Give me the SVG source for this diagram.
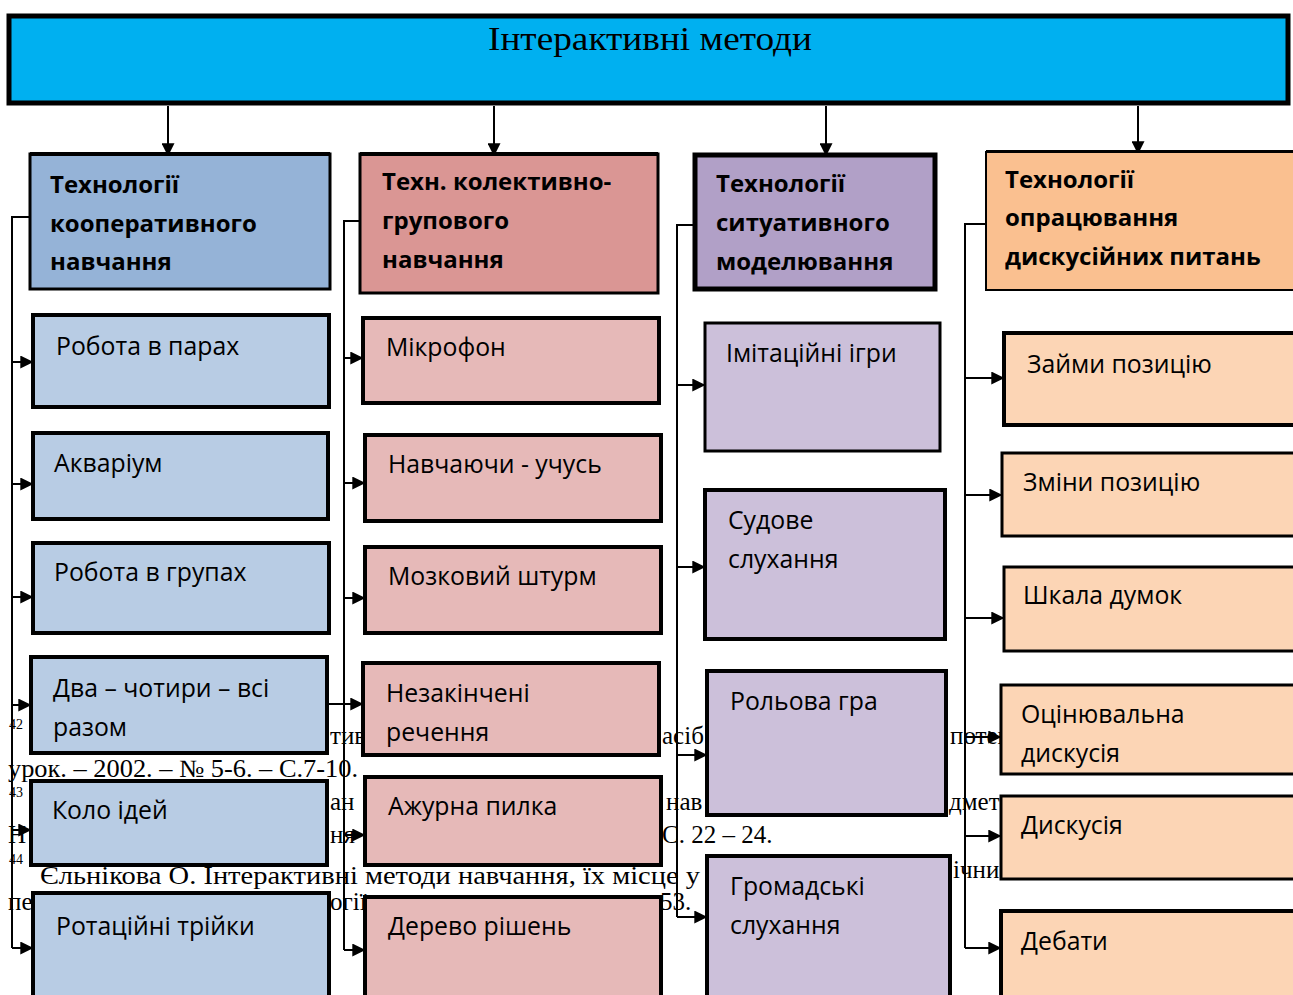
<svg xmlns="http://www.w3.org/2000/svg" width="1293" height="995" viewBox="0 0 1293 995">
<defs>
<marker id="ah" viewBox="0 0 10 10" refX="9" refY="5" markerWidth="13" markerHeight="13" markerUnits="userSpaceOnUse" orient="auto">
<path d="M0,0 L10,5 L0,10 z" fill="#000"/>
</marker>
<style>
.fn{font-family:"Liberation Serif",serif;font-size:25px;fill:#000}
.sup{font-family:"Liberation Serif",serif;font-size:14px;fill:#000}
.h{font-family:"Open Sans","Noto Sans",sans-serif;font-weight:bold;font-size:24px;fill:#000}
.t{font-family:"Open Sans","Noto Sans",sans-serif;font-size:24.8px;fill:#000}
.b{stroke:#000;stroke-width:4}
.bt{stroke:#000;stroke-width:3}
.c1h{fill:#95B3D7}.c1{fill:#B8CCE4}
.c2h{fill:#DA9694}.c2{fill:#E6B9B8}
.c3h{fill:#B1A0C7}.c3{fill:#CCC0DA}
.c4h{fill:#FAC090}.c4{fill:#FCD5B5}
.ln{fill:none;stroke:#000;stroke-width:2}
</style>
</defs>
<rect width="1293" height="995" fill="#fff"/>
<g id="footnotes">
<text class="sup" x="9" y="729">42</text>
<text class="fn" x="330" y="744">тив</text>
<text class="fn" x="662" y="744">асіб</text>
<text class="fn" x="950" y="744">потен</text>
<text class="fn" x="8" y="777" textLength="350" lengthAdjust="spacingAndGlyphs">урок. – 2002. – № 5-6. – С.7-10.</text>
<text class="sup" x="9" y="797">43</text>
<text class="fn" x="330" y="810">ан</text>
<text class="fn" x="666" y="810">нав</text>
<text class="fn" x="949" y="810">дмет</text>
<text class="fn" x="8" y="843">Н</text>
<text class="fn" x="330" y="843">ня</text>
<text class="fn" x="662" y="843">С. 22 – 24.</text>
<text class="sup" x="9" y="864">44</text>
<text class="fn" x="40" y="884" textLength="660" lengthAdjust="spacingAndGlyphs">Єльнікова О. Інтерактивні методи навчання, їх місце у</text>
<text class="fn" x="953" y="878">ічни</text>
<text class="fn" x="8" y="910">пе</text>
<text class="fn" x="330" y="910">огії</text>
<text class="fn" x="660" y="910">53.</text>
</g>
<g id="connectors">
<line class="ln" x1="168" y1="106" x2="168" y2="155" marker-end="url(#ah)"/>
<line class="ln" x1="494" y1="106" x2="494" y2="155" marker-end="url(#ah)"/>
<line class="ln" x1="826" y1="106" x2="826" y2="155" marker-end="url(#ah)"/>
<line class="ln" x1="1138" y1="106" x2="1138" y2="153" marker-end="url(#ah)"/>
<polyline class="ln" points="30,217 12,217 12,948"/>
<line class="ln" x1="12" y1="362" x2="32" y2="362" marker-end="url(#ah)"/>
<line class="ln" x1="12" y1="484" x2="32" y2="484" marker-end="url(#ah)"/>
<line class="ln" x1="12" y1="597" x2="32" y2="597" marker-end="url(#ah)"/>
<line class="ln" x1="12" y1="705" x2="30" y2="705" marker-end="url(#ah)"/>
<line class="ln" x1="12" y1="830" x2="30" y2="830" marker-end="url(#ah)"/>
<line class="ln" x1="12" y1="948" x2="32" y2="948" marker-end="url(#ah)"/>
<polyline class="ln" points="360,221 344,221 344,950"/>
<line class="ln" x1="344" y1="358" x2="362" y2="358" marker-end="url(#ah)"/>
<line class="ln" x1="344" y1="483" x2="364" y2="483" marker-end="url(#ah)"/>
<line class="ln" x1="344" y1="598" x2="364" y2="598" marker-end="url(#ah)"/>
<line class="ln" x1="328" y1="704" x2="362" y2="704" marker-end="url(#ah)"/>
<line class="ln" x1="344" y1="835" x2="364" y2="835" marker-end="url(#ah)"/>
<line class="ln" x1="344" y1="950" x2="364" y2="950" marker-end="url(#ah)"/>
<polyline class="ln" points="694,225 677,225 677,917"/>
<line class="ln" x1="677" y1="385" x2="704" y2="385" marker-end="url(#ah)"/>
<line class="ln" x1="677" y1="567" x2="704" y2="567" marker-end="url(#ah)"/>
<line class="ln" x1="677" y1="755" x2="706" y2="755" marker-end="url(#ah)"/>
<line class="ln" x1="677" y1="917" x2="706" y2="917" marker-end="url(#ah)"/>
<polyline class="ln" points="985,224 965,224 965,948"/>
<line class="ln" x1="965" y1="378" x2="1003" y2="378" marker-end="url(#ah)"/>
<line class="ln" x1="965" y1="495" x2="1001" y2="495" marker-end="url(#ah)"/>
<line class="ln" x1="965" y1="618" x2="1003" y2="618" marker-end="url(#ah)"/>
<line class="ln" x1="965" y1="737" x2="1000" y2="737" marker-end="url(#ah)"/>
<line class="ln" x1="965" y1="836" x2="1000" y2="836" marker-end="url(#ah)"/>
<line class="ln" x1="965" y1="948" x2="1000" y2="948" marker-end="url(#ah)"/>
</g>
<g id="root">
<rect x="9" y="16" width="1279" height="87" fill="#00B0F0" stroke="#000" stroke-width="5"/>
<text x="650" y="50" text-anchor="middle" font-family="Liberation Serif, serif" font-size="34" textLength="324" lengthAdjust="spacingAndGlyphs">Інтерактивні методи</text>
</g>
<g id="h1"><rect class="c1h bt" x="30" y="154" width="300" height="135"/><rect x="30" y="152" width="300" height="4" fill="#000"/>
<text class="h" x="50" y="193">Технології</text><text class="h" x="50" y="232">кооперативного</text><text class="h" x="50" y="270">навчання</text></g>
<g id="h2"><rect class="c2h bt" x="360" y="154" width="298" height="139"/><rect x="360" y="152" width="298" height="4" fill="#000"/>
<text class="h" x="382" y="190">Техн. колективно-</text><text class="h" x="382" y="229">групового</text><text class="h" x="382" y="268">навчання</text></g>
<g id="h3"><rect class="c3h" x="695" y="155" width="240" height="134" stroke="#000" stroke-width="5"/>
<text class="h" x="716" y="192">Технології</text><text class="h" x="716" y="231">ситуативного</text><text class="h" x="716" y="270">моделювання</text></g>
<g id="h4"><rect class="c4h" x="986" y="152" width="310" height="138" stroke="#000" stroke-width="2"/><rect x="986" y="150" width="310" height="3" fill="#000"/>
<text class="h" x="1005" y="188">Технології</text><text class="h" x="1005" y="226">опрацювання</text><text class="h" x="1005" y="265">дискусійних питань</text></g>

<g id="n1a"><rect class="c1 b" x="33" y="315" width="296" height="92"/><text class="t" x="56" y="355">Робота в парах</text></g>
<g id="n1b"><rect class="c1 b" x="33" y="433" width="295" height="86"/><text class="t" x="54" y="472">Акваріум</text></g>
<g id="n1c"><rect class="c1 b" x="33" y="543" width="296" height="90"/><text class="t" x="54" y="581">Робота в групах</text></g>
<g id="n1d"><rect class="c1 b" x="31" y="657" width="296" height="96"/><text class="t" x="53" y="697">Два – чотири – всі</text><text class="t" x="53" y="736">разом</text></g>
<g id="n1e"><rect class="c1 b" x="31" y="781" width="296" height="84"/><text class="t" x="52" y="819">Коло ідей</text></g>
<g id="n1f"><rect class="c1 b" x="33" y="893" width="296" height="106"/><text class="t" x="56" y="935">Ротаційні трійки</text></g>

<g id="n2a"><rect class="c2 b" x="363" y="318" width="296" height="85"/><text class="t" x="386" y="356">Мікрофон</text></g>
<g id="n2b"><rect class="c2 b" x="365" y="435" width="296" height="86"/><text class="t" x="388" y="473">Навчаючи - учусь</text></g>
<g id="n2c"><rect class="c2 b" x="365" y="547" width="296" height="86"/><text class="t" x="388" y="585">Мозковий штурм</text></g>
<g id="n2d"><rect class="c2 b" x="363" y="663" width="296" height="92"/><text class="t" x="386" y="702">Незакінчені</text><text class="t" x="386" y="741">речення</text></g>
<g id="n2e"><rect class="c2 b" x="365" y="777" width="296" height="88"/><text class="t" x="388" y="815">Ажурна пилка</text></g>
<g id="n2f"><rect class="c2 b" x="365" y="897" width="296" height="102"/><text class="t" x="388" y="935">Дерево рішень</text></g>

<g id="n3a"><rect class="c3" x="705" y="323" width="235" height="128" stroke="#000" stroke-width="3"/><text class="t" x="726" y="362">Імітаційні ігри</text></g>
<g id="n3b"><rect class="c3 b" x="705" y="490" width="240" height="149"/><text class="t" x="728" y="529">Судове</text><text class="t" x="728" y="568">слухання</text></g>
<g id="n3c"><rect class="c3 b" x="707" y="671" width="239" height="144"/><text class="t" x="730" y="710">Рольова гра</text></g>
<g id="n3d"><rect class="c3 b" x="707" y="856" width="243" height="143"/><text class="t" x="730" y="895">Громадські</text><text class="t" x="730" y="934">слухання</text></g>

<g id="n4a"><rect class="c4 b" x="1004" y="333" width="295" height="92"/><text class="t" x="1027" y="373">Займи позицію</text></g>
<g id="n4b"><rect class="c4 bt" x="1002" y="453" width="297" height="83"/><text class="t" x="1023" y="491">Зміни позицію</text></g>
<g id="n4c"><rect class="c4 bt" x="1004" y="567" width="295" height="84"/><text class="t" x="1023" y="604">Шкала думок</text></g>
<g id="n4d"><rect class="c4 bt" x="1001" y="685" width="298" height="89"/><text class="t" x="1021" y="723">Оцінювальна</text><text class="t" x="1021" y="762">дискусія</text></g>
<g id="n4e"><rect class="c4 bt" x="1001" y="796" width="298" height="83"/><text class="t" x="1021" y="834">Дискусія</text></g>
<g id="n4f"><rect class="c4 b" x="1001" y="911" width="298" height="88"/><text class="t" x="1021" y="950">Дебати</text></g>
</svg>
